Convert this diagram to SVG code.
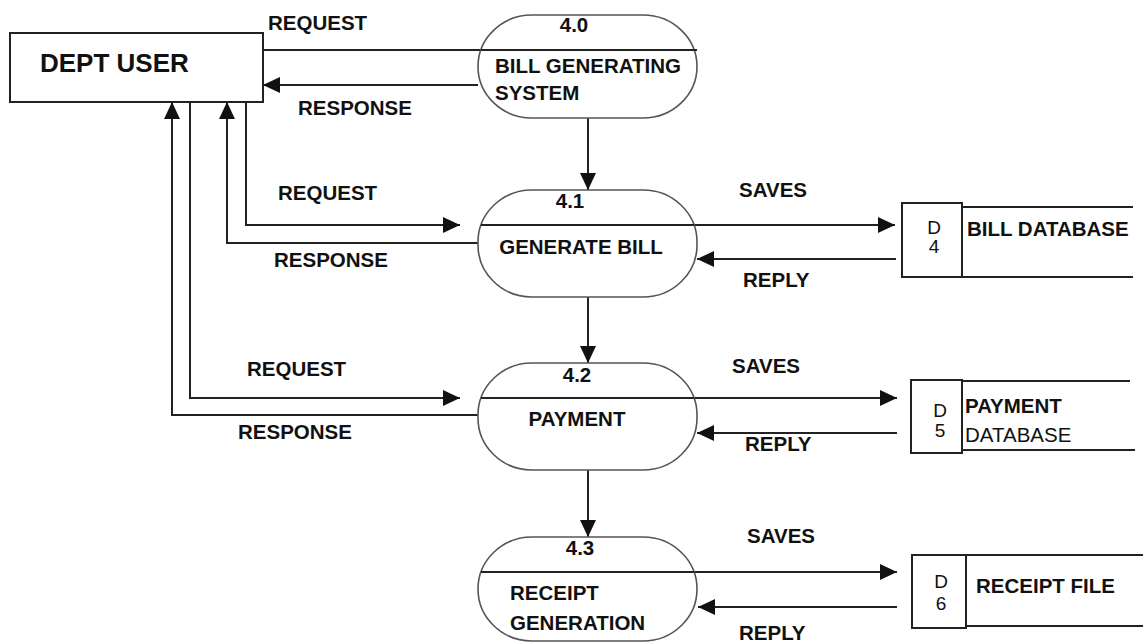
<svg xmlns="http://www.w3.org/2000/svg" width="1143" height="643" viewBox="0 0 1143 643">
<defs>
<marker id="arr" markerUnits="userSpaceOnUse" markerWidth="18" markerHeight="16" refX="17" refY="8" orient="auto">
<path d="M0,0 L17,8 L0,16 z" fill="#111"/>
</marker>
<style>
.t{font-family:"Liberation Sans",Arial,sans-serif;font-weight:bold;font-size:20.5px;fill:#111}
.r{font-family:"Liberation Sans",Arial,sans-serif;font-weight:normal;font-size:19px;fill:#111}
.proc{fill:#fff;stroke:#555;stroke-width:1.6}
.div{stroke:#222;stroke-width:2}
.box{fill:#fff;stroke:#222;stroke-width:2}
.c{fill:none;stroke:#222;stroke-width:2}
.ca{fill:none;stroke:#222;stroke-width:2;marker-end:url(#arr)}
</style>
</defs>
<rect width="1143" height="643" fill="#fff"/>

<g id="connectors">
<path class="c" d="M263,50 H481"/>
<path class="ca" d="M478,85 H263"/>
<path class="ca" d="M588,118 V190"/>
<path class="ca" d="M588,297 V363"/>
<path class="ca" d="M588,470 V537"/>
<path class="ca" d="M246,102 V225 H460"/>
<path class="ca" d="M478,243 H227 V102"/>
<path class="ca" d="M190,102 V398 H460"/>
<path class="ca" d="M478,415 H172 V102"/>
<path class="ca" d="M694,225 H895"/>
<path class="ca" d="M896,259 H697"/>
<path class="ca" d="M694,398 H897"/>
<path class="ca" d="M897,433 H697"/>
<path class="ca" d="M694,572 H897"/>
<path class="ca" d="M897,607 H698"/>
</g>

<g id="labels">
<text class="t" x="268" y="30">REQUEST</text>
<text class="t" x="298" y="115">RESPONSE</text>
<text class="t" x="278" y="200">REQUEST</text>
<text class="t" x="274" y="267">RESPONSE</text>
<text class="t" x="247" y="376">REQUEST</text>
<text class="t" x="238" y="439">RESPONSE</text>
<text class="t" x="739" y="197">SAVES</text>
<text class="t" x="743" y="287">REPLY</text>
<text class="t" x="732" y="373">SAVES</text>
<text class="t" x="745" y="451">REPLY</text>
<text class="t" x="747" y="543">SAVES</text>
<text class="t" x="739" y="640">REPLY</text>
</g>

<g id="dept-user">
<rect class="box" x="10" y="33" width="253" height="69"/>
<text class="t" x="40" y="72" style="font-size:26px">DEPT USER</text>
</g>

<g id="p4-0">
<rect class="proc" x="478" y="15" width="219" height="103" rx="54" ry="52"/>
<line class="div" x1="481" y1="50" x2="697" y2="50"/>
<text class="t" x="574" y="32" text-anchor="middle">4.0</text>
<text class="t" x="495" y="73">BILL GENERATING</text>
<text class="t" x="495" y="100">SYSTEM</text>
</g>

<g id="p4-1">
<rect class="proc" x="478" y="190" width="219" height="107" rx="54" ry="52"/>
<line class="div" x1="481" y1="225" x2="694" y2="225"/>
<text class="t" x="570" y="208" text-anchor="middle">4.1</text>
<text class="t" x="581" y="254" text-anchor="middle">GENERATE BILL</text>
</g>

<g id="p4-2">
<rect class="proc" x="478" y="363" width="219" height="107" rx="54" ry="52"/>
<line class="div" x1="481" y1="398" x2="694" y2="398"/>
<text class="t" x="577" y="382" text-anchor="middle">4.2</text>
<text class="t" x="577" y="426" text-anchor="middle">PAYMENT</text>
</g>

<g id="p4-3">
<rect class="proc" x="478" y="537" width="219" height="104" rx="54" ry="52"/>
<line class="div" x1="481" y1="572" x2="694" y2="572"/>
<text class="t" x="580" y="555" text-anchor="middle">4.3</text>
<text class="t" x="510" y="600">RECEIPT</text>
<text class="t" x="510" y="630">GENERATION</text>
</g>

<g id="d4">
<rect class="box" x="902" y="203" width="60" height="74"/>
<line class="div" x1="962" y1="207" x2="1133" y2="207"/>
<line class="div" x1="962" y1="277" x2="1133" y2="277"/>
<text class="r" x="934" y="234" text-anchor="middle">D</text>
<text class="r" x="934" y="253" text-anchor="middle">4</text>
<text class="t" x="967" y="236">BILL DATABASE</text>
</g>

<g id="d5">
<rect class="box" x="911" y="380" width="51" height="73"/>
<line class="div" x1="962" y1="381" x2="1130" y2="381"/>
<line class="div" x1="962" y1="450" x2="1135" y2="450"/>
<text class="r" x="940" y="417" text-anchor="middle">D</text>
<text class="r" x="940" y="437" text-anchor="middle">5</text>
<text class="t" x="965" y="413">PAYMENT</text>
<text class="r" x="965" y="442" style="font-size:20.5px">DATABASE</text>
</g>

<g id="d6">
<rect class="box" x="912" y="555" width="54" height="73"/>
<line class="div" x1="966" y1="555" x2="1143" y2="555"/>
<line class="div" x1="966" y1="626" x2="1143" y2="626"/>
<text class="r" x="941" y="588" text-anchor="middle">D</text>
<text class="r" x="941" y="610" text-anchor="middle">6</text>
<text class="t" x="976" y="593">RECEIPT FILE</text>
</g>
</svg>
